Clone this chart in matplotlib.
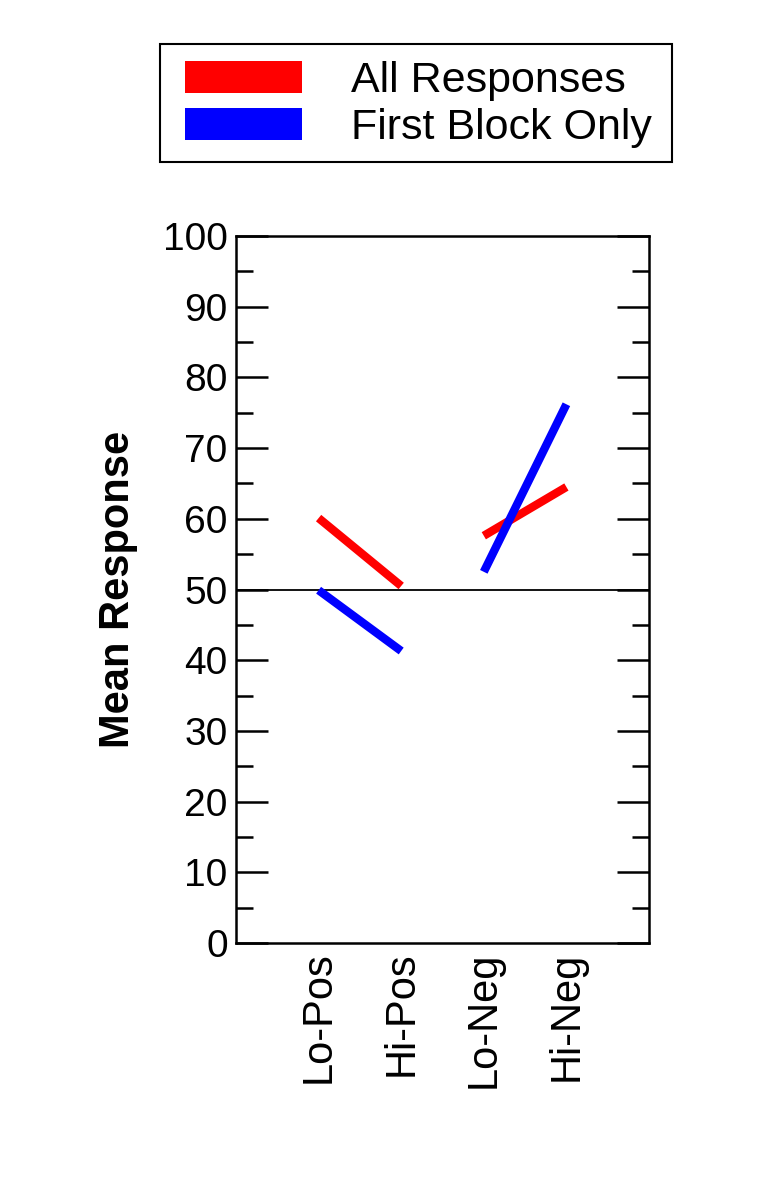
import numpy as np
import matplotlib.pyplot as plt
from matplotlib.patches import Patch, Rectangle
from matplotlib.ticker import MultipleLocator

plt.rcParams['font.family'] = ['Liberation Sans', 'DejaVu Sans']

conditions = ['Lo-Pos', 'Hi-Pos', 'Lo-Neg', 'Hi-Neg']
all_responses = [60.1, 50.5, 57.6, 64.5]
first_block = [49.9, 41.3, 52.5, 76.2]
series_names = ['All Responses', 'First Block Only']

W, H = 767, 1181


def main():
    fig = plt.figure(figsize=(W / 100, H / 100), dpi=100)
    ax = fig.add_axes([236 / W, 1 - 943 / H, 413 / W, 707 / H])

    x = np.arange(1, len(conditions) + 1)
    # lines are drawn in pairs (Pos pair and Neg pair), not joined across
    for vals, color in [(all_responses, 'red'), (first_block, 'blue')]:
        ax.plot(x[:2], vals[:2], color=color, lw=6, solid_capstyle='butt')
        ax.plot(x[2:], vals[2:], color=color, lw=6, solid_capstyle='butt')

    ax.axhline(50, color='black', lw=1.3, zorder=1)

    ax.set_xlim(0, 5)
    ax.set_ylim(0, 100)
    ax.set_xticks(x)
    ax.set_xticklabels(conditions, rotation=90, fontsize=30)
    ax.tick_params(axis='x', length=0, pad=6)
    ax.yaxis.set_major_locator(MultipleLocator(10))
    ax.yaxis.set_minor_locator(MultipleLocator(5))
    ax.tick_params(axis='y', which='major', direction='in', length=23, width=1.8,
                   left=True, right=True, labelsize=28, pad=6)
    ax.tick_params(axis='y', which='minor', direction='in', length=12, width=1.8,
                   left=True, right=True)
    for s in ax.spines.values():
        s.set_linewidth(1.8)

    ax.set_ylabel('Mean Response', fontsize=30, fontweight='bold', labelpad=18)

    # legend content without its own frame; the box is drawn separately
    handles = [Patch(facecolor='red', edgecolor='none'), Patch(facecolor='blue', edgecolor='none')]
    fig.legend(handles, series_names, loc='upper left',
               bbox_to_anchor=(172 / W, 1 - 48 / H), fontsize=31,
               handlelength=2.72, handleheight=0.77, handletextpad=1.13,
               labelspacing=0.17, borderpad=0.3, borderaxespad=0,
               frameon=False)
    fig.add_artist(Rectangle((160 / W, 1 - 162 / H), 512 / W, 118 / H,
                             transform=fig.transFigure, fill=False,
                             edgecolor='black', lw=1.5))

    fig.savefig('out.png', dpi=100)


if __name__ == "__main__":
    main()
